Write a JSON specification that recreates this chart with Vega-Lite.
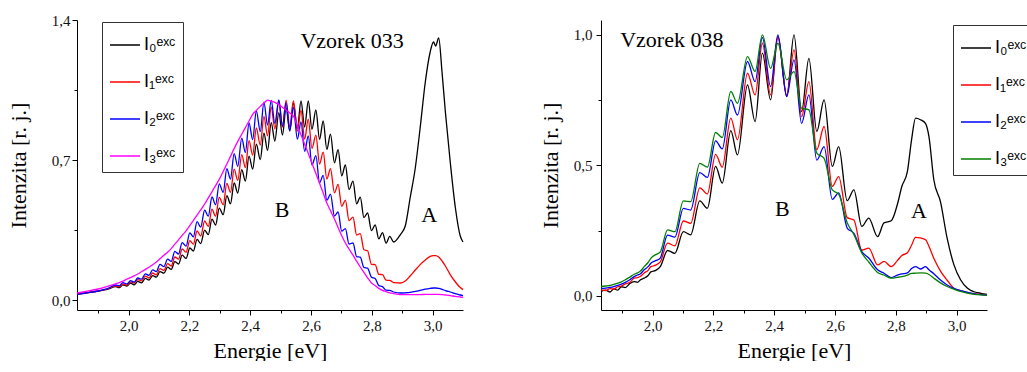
{
 "$schema": "https://vega.github.io/schema/vega-lite/v6.json",
 "background": "white",
 "padding": {"left": 7, "top": 13, "right": 0, "bottom": 0},
 "bounds": "flush",
 "spacing": 138,
 "config": {
  "view": {"stroke": null},
  "axis": {"domainColor": "#000", "tickColor": "#000", "labelColor": "#111", "titleColor": "#000", "labelFont": "Liberation Serif", "titleFont": "Liberation Serif", "labelFontSize": 15, "titleFontSize": 22, "titleFontWeight": "normal", "grid": false, "tickSize": 5, "domainWidth": 1, "tickWidth": 1},
  "legend": {"orient": "none", "title": null, "symbolType": "stroke", "symbolSize": 900, "symbolStrokeWidth": 1.5, "labelFont": "Liberation Sans", "labelFontSize": 18, "labelColor": "#000", "strokeColor": "#333", "fillColor": "#fff", "padding": 7, "rowPadding": 12, "labelOffset": 3}
 },
 "resolve": {"scale": {"color": "independent", "x": "independent", "y": "independent"}, "legend": {"color": "independent"}},
 "datasets": {
  "left": [
   {"x":1.83,"I0":0.030,"I1":0.030,"I2":0.028,"I3":0.035},
   {"x":1.86,"I0":0.036,"I1":0.035,"I2":0.035,"I3":0.043},
   {"x":1.90,"I0":0.045,"I1":0.045,"I2":0.045,"I3":0.055},
   {"x":1.93,"I0":0.053,"I1":0.055,"I2":0.057,"I3":0.068},
   {"x":1.957,"I0":0.067,"I1":0.071,"I2":0.075,"I3":0.081},
   {"x":1.969,"I0":0.062,"I1":0.066,"I2":0.071,"I3":0.087},
   {"x":1.981,"I0":0.076,"I1":0.080,"I2":0.087,"I3":0.094},
   {"x":1.994,"I0":0.070,"I1":0.074,"I2":0.080,"I3":0.104},
   {"x":2.006,"I0":0.085,"I1":0.091,"I2":0.097,"I3":0.112},
   {"x":2.018,"I0":0.076,"I1":0.084,"I2":0.089,"I3":0.121},
   {"x":2.030,"I0":0.093,"I1":0.102,"I2":0.110,"I3":0.130},
   {"x":2.042,"I0":0.086,"I1":0.096,"I2":0.104,"I3":0.141},
   {"x":2.055,"I0":0.108,"I1":0.119,"I2":0.131,"I3":0.153},
   {"x":2.067,"I0":0.100,"I1":0.110,"I2":0.123,"I3":0.164},
   {"x":2.079,"I0":0.122,"I1":0.135,"I2":0.151,"I3":0.176},
   {"x":2.091,"I0":0.114,"I1":0.126,"I2":0.142,"I3":0.190},
   {"x":2.103,"I0":0.142,"I1":0.157,"I2":0.178,"I3":0.206},
   {"x":2.116,"I0":0.134,"I1":0.148,"I2":0.167,"I3":0.224},
   {"x":2.128,"I0":0.164,"I1":0.182,"I2":0.204,"I3":0.239},
   {"x":2.140,"I0":0.153,"I1":0.170,"I2":0.193,"I3":0.257},
   {"x":2.152,"I0":0.192,"I1":0.215,"I2":0.243,"I3":0.279},
   {"x":2.164,"I0":0.180,"I1":0.204,"I2":0.230,"I3":0.301},
   {"x":2.176,"I0":0.224,"I1":0.255,"I2":0.287,"I3":0.323},
   {"x":2.189,"I0":0.208,"I1":0.239,"I2":0.269,"I3":0.346},
   {"x":2.201,"I0":0.260,"I1":0.297,"I2":0.336,"I3":0.372},
   {"x":2.213,"I0":0.245,"I1":0.279,"I2":0.316,"I3":0.398},
   {"x":2.225,"I0":0.303,"I1":0.345,"I2":0.392,"I3":0.424},
   {"x":2.237,"I0":0.282,"I1":0.320,"I2":0.364,"I3":0.451},
   {"x":2.250,"I0":0.349,"I1":0.395,"I2":0.449,"I3":0.480},
   {"x":2.262,"I0":0.327,"I1":0.368,"I2":0.419,"I3":0.511},
   {"x":2.274,"I0":0.404,"I1":0.454,"I2":0.515,"I3":0.541},
   {"x":2.286,"I0":0.375,"I1":0.419,"I2":0.476,"I3":0.572},
   {"x":2.298,"I0":0.459,"I1":0.513,"I2":0.581,"I3":0.603},
   {"x":2.311,"I0":0.427,"I1":0.476,"I2":0.538,"I3":0.642},
   {"x":2.323,"I0":0.522,"I1":0.583,"I2":0.657,"I3":0.680},
   {"x":2.335,"I0":0.481,"I1":0.538,"I2":0.604,"I3":0.718},
   {"x":2.347,"I0":0.585,"I1":0.654,"I2":0.732,"I3":0.757},
   {"x":2.359,"I0":0.535,"I1":0.598,"I2":0.668,"I3":0.793},
   {"x":2.372,"I0":0.652,"I1":0.727,"I2":0.809,"I3":0.829},
   {"x":2.384,"I0":0.595,"I1":0.662,"I2":0.737,"I3":0.862},
   {"x":2.396,"I0":0.719,"I1":0.797,"I2":0.885,"I3":0.895},
   {"x":2.408,"I0":0.654,"I1":0.724,"I2":0.802,"I3":0.928},
   {"x":2.420,"I0":0.779,"I1":0.860,"I2":0.946,"I3":0.948},
   {"x":2.433,"I0":0.702,"I1":0.775,"I2":0.842,"I3":0.968},
   {"x":2.445,"I0":0.834,"I1":0.918,"I2":0.989,"I3":0.985},
   {"x":2.457,"I0":0.748,"I1":0.821,"I2":0.875,"I3":0.999},
   {"x":2.469,"I0":0.887,"I1":0.964,"I2":0.998,"I3":0.994},
   {"x":2.481,"I0":0.795,"I1":0.856,"I2":0.882,"I3":0.988},
   {"x":2.494,"I0":0.937,"I1":0.995,"I2":1.000,"I3":0.977},
   {"x":2.506,"I0":0.825,"I1":0.865,"I2":0.869,"I3":0.964},
   {"x":2.518,"I0":0.961,"I1":0.998,"I2":0.987,"I3":0.949},
   {"x":2.530,"I0":0.845,"I1":0.865,"I2":0.847,"I3":0.935},
   {"x":2.542,"I0":0.984,"I1":0.995,"I2":0.963,"I3":0.920},
   {"x":2.555,"I0":0.860,"I1":0.844,"I2":0.804,"I3":0.870},
   {"x":2.567,"I0":0.995,"I1":0.949,"I2":0.890,"I3":0.826},
   {"x":2.579,"I0":0.865,"I1":0.805,"I2":0.743,"I3":0.779},
   {"x":2.591,"I0":0.995,"I1":0.904,"I2":0.821,"I3":0.733},
   {"x":2.603,"I0":0.853,"I1":0.758,"I2":0.675,"I3":0.685},
   {"x":2.616,"I0":0.950,"I1":0.824,"I2":0.722,"I3":0.632},
   {"x":2.628,"I0":0.803,"I1":0.680,"I2":0.586,"I3":0.584},
   {"x":2.640,"I0":0.895,"I1":0.739,"I2":0.623,"I3":0.535},
   {"x":2.652,"I0":0.753,"I1":0.605,"I2":0.498,"I3":0.485},
   {"x":2.664,"I0":0.829,"I1":0.657,"I2":0.529,"I3":0.447},
   {"x":2.677,"I0":0.686,"I1":0.536,"I2":0.420,"I3":0.405},
   {"x":2.689,"I0":0.752,"I1":0.578,"I2":0.440,"I3":0.363},
   {"x":2.701,"I0":0.621,"I1":0.468,"I2":0.344,"I3":0.321},
   {"x":2.713,"I0":0.675,"I1":0.499,"I2":0.357,"I3":0.285},
   {"x":2.725,"I0":0.552,"I1":0.397,"I2":0.280,"I3":0.255},
   {"x":2.738,"I0":0.594,"I1":0.414,"I2":0.285,"I3":0.224},
   {"x":2.750,"I0":0.481,"I1":0.325,"I2":0.217,"I3":0.194},
   {"x":2.762,"I0":0.514,"I1":0.332,"I2":0.214,"I3":0.165},
   {"x":2.774,"I0":0.413,"I1":0.251,"I2":0.163,"I3":0.138},
   {"x":2.786,"I0":0.435,"I1":0.246,"I2":0.159,"I3":0.111},
   {"x":2.799,"I0":0.347,"I1":0.178,"I2":0.114,"I3":0.085},
   {"x":2.811,"I0":0.376,"I1":0.177,"I2":0.107,"I3":0.072},
   {"x":2.823,"I0":0.306,"I1":0.128,"I2":0.072,"I3":0.058},
   {"x":2.835,"I0":0.337,"I1":0.127,"I2":0.067,"I3":0.048},
   {"x":2.847,"I0":0.284,"I1":0.099,"I2":0.049,"I3":0.042},
   {"x":2.859,"I0":0.318,"I1":0.098,"I2":0.048,"I3":0.036},
   {"x":2.872,"I0":0.290,"I1":0.087,"I2":0.040,"I3":0.032},
   {"x":2.894,"I0":0.327,"I1":0.085,"I2":0.035,"I3":0.027},
   {"x":2.910,"I0":0.370,"I1":0.095,"I2":0.036,"I3":0.027},
   {"x":2.926,"I0":0.510,"I1":0.120,"I2":0.038,"I3":0.027},
   {"x":2.943,"I0":0.660,"I1":0.150,"I2":0.043,"I3":0.027},
   {"x":2.959,"I0":0.860,"I1":0.177,"I2":0.048,"I3":0.027},
   {"x":2.976,"I0":1.090,"I1":0.200,"I2":0.054,"I3":0.028},
   {"x":2.992,"I0":1.240,"I1":0.218,"I2":0.058,"I3":0.028},
   {"x":3.003,"I0":1.290,"I1":0.222,"I2":0.060,"I3":0.028},
   {"x":3.010,"I0":1.270,"I1":0.222,"I2":0.060,"I3":0.028},
   {"x":3.020,"I0":1.310,"I1":0.215,"I2":0.058,"I3":0.028},
   {"x":3.031,"I0":1.140,"I1":0.195,"I2":0.053,"I3":0.027},
   {"x":3.042,"I0":0.940,"I1":0.170,"I2":0.047,"I3":0.025},
   {"x":3.058,"I0":0.690,"I1":0.127,"I2":0.040,"I3":0.022},
   {"x":3.075,"I0":0.460,"I1":0.090,"I2":0.032,"I3":0.018},
   {"x":3.091,"I0":0.320,"I1":0.062,"I2":0.025,"I3":0.015},
   {"x":3.100,"I0":0.290,"I1":0.052,"I2":0.022,"I3":0.013}
  ],
  "right": [
   {"x":1.830,"I0":0.017,"I1":0.023,"I2":0.029,"I3":0.036},
   {"x":1.845,"I0":0.022,"I1":0.020,"I2":0.030,"I3":0.038},
   {"x":1.860,"I0":0.015,"I1":0.028,"I2":0.033,"I3":0.040},
   {"x":1.872,"I0":0.027,"I1":0.026,"I2":0.036,"I3":0.044},
   {"x":1.885,"I0":0.022,"I1":0.035,"I2":0.040,"I3":0.049},
   {"x":1.897,"I0":0.035,"I1":0.038,"I2":0.045,"I3":0.054},
   {"x":1.910,"I0":0.032,"I1":0.046,"I2":0.052,"I3":0.062},
   {"x":1.925,"I0":0.048,"I1":0.052,"I2":0.062,"I3":0.072},
   {"x":1.939,"I0":0.055,"I1":0.068,"I2":0.074,"I3":0.083},
   {"x":1.950,"I0":0.052,"I1":0.070,"I2":0.080,"I3":0.088},
   {"x":1.960,"I0":0.062,"I1":0.075,"I2":0.085,"I3":0.095},
   {"x":1.972,"I0":0.068,"I1":0.088,"I2":0.100,"I3":0.112},
   {"x":1.985,"I0":0.078,"I1":0.098,"I2":0.112,"I3":0.128},
   {"x":1.994,"I0":0.092,"I1":0.112,"I2":0.125,"I3":0.144},
   {"x":2.010,"I0":0.098,"I1":0.118,"I2":0.135,"I3":0.158},
   {"x":2.025,"I0":0.112,"I1":0.130,"I2":0.145,"I3":0.168},
   {"x":2.049,"I0":0.174,"I1":0.202,"I2":0.233,"I3":0.253},
   {"x":2.073,"I0":0.163,"I1":0.192,"I2":0.225,"I3":0.246},
   {"x":2.101,"I0":0.246,"I1":0.287,"I2":0.335,"I3":0.364},
   {"x":2.125,"I0":0.234,"I1":0.278,"I2":0.329,"I3":0.361},
   {"x":2.155,"I0":0.364,"I1":0.414,"I2":0.472,"I3":0.508},
   {"x":2.180,"I0":0.336,"I1":0.391,"I2":0.454,"I3":0.493},
   {"x":2.207,"I0":0.496,"I1":0.542,"I2":0.594,"I3":0.626},
   {"x":2.229,"I0":0.432,"I1":0.493,"I2":0.563,"I3":0.607},
   {"x":2.257,"I0":0.633,"I1":0.681,"I2":0.751,"I3":0.783},
   {"x":2.279,"I0":0.540,"I1":0.598,"I2":0.693,"I3":0.738},
   {"x":2.312,"I0":0.808,"I1":0.853,"I2":0.898,"I3":0.917},
   {"x":2.337,"I0":0.668,"I1":0.770,"I2":0.821,"I3":0.860},
   {"x":2.361,"I0":0.930,"I1":0.968,"I2":0.990,"I3":1.000},
   {"x":2.388,"I0":0.751,"I1":0.770,"I2":0.802,"I3":0.872},
   {"x":2.412,"I0":0.995,"I1":0.990,"I2":1.000,"I3":0.968},
   {"x":2.441,"I0":0.764,"I1":0.770,"I2":0.764,"I3":0.828},
   {"x":2.465,"I0":1.000,"I1":0.942,"I2":0.904,"I3":0.859},
   {"x":2.490,"I0":0.706,"I1":0.687,"I2":0.661,"I3":0.719},
   {"x":2.514,"I0":0.910,"I1":0.821,"I2":0.770,"I3":0.713},
   {"x":2.540,"I0":0.630,"I1":0.560,"I2":0.520,"I3":0.547},
   {"x":2.564,"I0":0.751,"I1":0.649,"I2":0.572,"I3":0.527},
   {"x":2.591,"I0":0.496,"I1":0.420,"I2":0.370,"I3":0.406},
   {"x":2.612,"I0":0.572,"I1":0.457,"I2":0.395,"I3":0.390},
   {"x":2.640,"I0":0.365,"I1":0.300,"I2":0.260,"I3":0.280},
   {"x":2.662,"I0":0.406,"I1":0.291,"I2":0.240,"I3":0.235},
   {"x":2.688,"I0":0.266,"I1":0.175,"I2":0.170,"I3":0.165},
   {"x":2.711,"I0":0.298,"I1":0.183,"I2":0.145,"I3":0.130},
   {"x":2.740,"I0":0.227,"I1":0.119,"I2":0.100,"I3":0.090},
   {"x":2.761,"I0":0.280,"I1":0.132,"I2":0.087,"I3":0.080},
   {"x":2.785,"I0":0.288,"I1":0.112,"I2":0.070,"I3":0.068},
   {"x":2.805,"I0":0.350,"I1":0.135,"I2":0.080,"I3":0.071},
   {"x":2.820,"I0":0.420,"I1":0.155,"I2":0.084,"I3":0.074},
   {"x":2.838,"I0":0.476,"I1":0.165,"I2":0.088,"I3":0.080},
   {"x":2.852,"I0":0.600,"I1":0.195,"I2":0.105,"I3":0.086},
   {"x":2.865,"I0":0.681,"I1":0.224,"I2":0.112,"I3":0.087},
   {"x":2.881,"I0":0.675,"I1":0.222,"I2":0.103,"I3":0.088},
   {"x":2.898,"I0":0.660,"I1":0.215,"I2":0.112,"I3":0.087},
   {"x":2.909,"I0":0.610,"I1":0.190,"I2":0.100,"I3":0.082},
   {"x":2.925,"I0":0.445,"I1":0.144,"I2":0.085,"I3":0.068},
   {"x":2.947,"I0":0.360,"I1":0.095,"I2":0.061,"I3":0.050},
   {"x":2.969,"I0":0.220,"I1":0.060,"I2":0.042,"I3":0.036},
   {"x":2.991,"I0":0.120,"I1":0.029,"I2":0.029,"I3":0.026},
   {"x":3.013,"I0":0.062,"I1":0.020,"I2":0.020,"I3":0.017},
   {"x":3.035,"I0":0.030,"I1":0.013,"I2":0.014,"I3":0.011},
   {"x":3.060,"I0":0.015,"I1":0.008,"I2":0.008,"I3":0.006},
   {"x":3.080,"I0":0.010,"I1":0.006,"I2":0.005,"I3":0.004},
   {"x":3.100,"I0":0.006,"I1":0.004,"I2":0.003,"I3":0.002}
  ]
 },
 "hconcat": [
  {
   "width": 386, "height": 290,
   "resolve": {"axis": {"x": "independent", "y": "independent"}},
   "layer": [
    {
     "data": {"name": "left"},
     "transform": [{"fold": ["I0","I1","I2","I3"], "as": ["s","y"]}],
     "mark": {"type": "line", "strokeWidth": 1.3, "interpolate": "monotone"},
     "encoding": {
      "x": {"field": "x", "type": "quantitative", "scale": {"domain": [1.83, 3.1], "nice": false, "zero": false},
            "axis": {"values": [2.0,2.2,2.4,2.6,2.8,3.0], "labelExpr": "replace(format(datum.value,'.1f'),'.',',')", "title": "Energie [eV]", "labelPadding": 3, "titlePadding": 7}},
      "y": {"field": "y", "type": "quantitative", "scale": {"domain": [-0.05, 1.4], "nice": false, "zero": false},
            "axis": {"values": [0, 0.7, 1.4], "labelExpr": "replace(format(datum.value,'.1f'),'.',',')", "title": "Intenzita [r. j.]", "labelPadding": 2, "titlePadding": 21}},
      "color": {"field": "s", "type": "nominal",
                "scale": {"domain": ["I0","I1","I2","I3"], "range": ["#000000","#ff0000","#0000ff","#ff00ff"]},
                "legend": {"legendX": 25, "legendY": 2, "labelExpr": "datum.label == 'I0' ? 'I₀ᵉˣᶜ' : datum.label == 'I1' ? 'I₁ᵉˣᶜ' : datum.label == 'I2' ? 'I₂ᵉˣᶜ' : 'I₃ᵉˣᶜ'"}}
     }
    },
    {
     "data": {"values": [{"x": 2.735, "y": 1.295, "t": "Vzorek 033"}, {"x": 2.505, "y": 0.45, "t": "B"}, {"x": 2.989, "y": 0.425, "t": "A"}]},
     "mark": {"type": "text", "font": "Liberation Serif", "fontSize": 22, "color": "#000", "align": "center", "baseline": "middle"},
     "encoding": {
      "x": {"field": "x", "type": "quantitative", "axis": {"orient": "bottom", "values": [1.9,2.1,2.3,2.5,2.7,2.9], "labels": false, "domain": false, "tickSize": 3, "title": null}},
      "y": {"field": "y", "type": "quantitative", "axis": {"orient": "left", "values": [0.35, 1.05], "labels": false, "domain": false, "tickSize": 3, "title": null}},
      "text": {"field": "t"}
     }
    }
   ]
  },
  {
   "width": 386, "height": 290,
   "resolve": {"axis": {"x": "independent", "y": "independent"}},
   "layer": [
    {
     "data": {"name": "right"},
     "transform": [{"fold": ["I0","I1","I2","I3"], "as": ["s","y"]}],
     "mark": {"type": "line", "strokeWidth": 1.3, "interpolate": "monotone"},
     "encoding": {
      "x": {"field": "x", "type": "quantitative", "scale": {"domain": [1.83, 3.1], "nice": false, "zero": false},
            "axis": {"values": [2.0,2.2,2.4,2.6,2.8,3.0], "labelExpr": "replace(format(datum.value,'.1f'),'.',',')", "title": "Energie [eV]", "labelPadding": 3, "titlePadding": 7}},
      "y": {"field": "y", "type": "quantitative", "scale": {"domain": [-0.054, 1.057], "nice": false, "zero": false},
            "axis": {"values": [0, 0.5, 1.0], "labelExpr": "replace(format(datum.value,'.1f'),'.',',')", "title": "Intenzita [r. j.]", "labelPadding": 4, "titlePadding": 11}},
      "color": {"field": "s", "type": "nominal",
                "scale": {"domain": ["I0","I1","I2","I3"], "range": ["#000000","#ff0000","#0000ff","#008000"]},
                "legend": {"legendX": 352, "legendY": 5, "labelExpr": "datum.label == 'I0' ? 'I₀ᵉˣᶜ' : datum.label == 'I1' ? 'I₁ᵉˣᶜ' : datum.label == 'I2' ? 'I₂ᵉˣᶜ' : 'I₃ᵉˣᶜ'"}}
     }
    },
    {
     "data": {"values": [{"x": 2.063, "y": 0.98, "t": "Vzorek 038"}, {"x": 2.427, "y": 0.333, "t": "B"}, {"x": 2.876, "y": 0.327, "t": "A"}]},
     "mark": {"type": "text", "font": "Liberation Serif", "fontSize": 22, "color": "#000", "align": "center", "baseline": "middle"},
     "encoding": {
      "x": {"field": "x", "type": "quantitative", "axis": {"orient": "bottom", "values": [1.9,2.1,2.3,2.5,2.7,2.9], "labels": false, "domain": false, "tickSize": 3, "title": null}},
      "y": {"field": "y", "type": "quantitative", "axis": {"orient": "left", "values": [0.25, 0.75], "labels": false, "domain": false, "tickSize": 3, "title": null}},
      "text": {"field": "t"}
     }
    }
   ]
  }
 ]
}
